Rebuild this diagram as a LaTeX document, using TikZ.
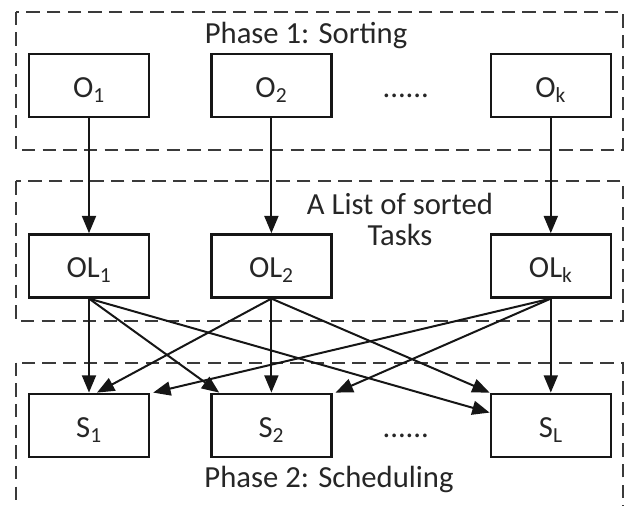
\documentclass[tikz,border=0pt]{standalone}
\usepackage{fontspec}
\setmainfont{Carlito}
\usetikzlibrary{arrows.meta,positioning,calc}
\definecolor{phink}{HTML}{161616}
\definecolor{phtext}{HTML}{262626}
\definecolor{phframe}{HTML}{3A3A3A}

\begin{document}
\begin{tikzpicture}[
  font=\fontsize{23pt}{23pt}\selectfont,
  text=phtext,
  box/.style={draw=phink, line width=1.8pt, minimum width=90pt,
    minimum height=47.25pt, inner sep=0pt, text height=18pt, text depth=0pt},
  gap/.style={inner sep=0pt, text height=18pt, text depth=0pt},
  title/.style={inner sep=0pt, anchor=base},
  phase/.style={draw=phframe, line width=1.6pt, dash pattern=on 10pt off 5.5pt},
  arrow/.style={-{Triangle[length=13pt,width=10.5pt]}, line width=1.5pt, draw=phink}
]
\useasboundingbox (0,0) rectangle (474pt,-379.5pt);
% phase 1: sorting
\node[box] (o1) at (66.75pt,-64.125pt) {O\textsubscript{1}};
\node[box, right=45pt of o1] (o2) {O\textsubscript{2}};
\node[box, right=117.75pt of o2] (ok) {O\textsubscript{k}};
\node[gap] (dots1) at ($(o2)!0.5!(ok)+(-4pt,0)$) {......};
\node[title] (sorting) at (229.5pt,-32.5pt) {Phase 1: Sorting};
% sorted task lists
\node[box, below=86.25pt of o1] (ol1) {OL\textsubscript{1}};
\node[box, below=86.25pt of o2] (ol2) {OL\textsubscript{2}};
\node[box, below=86.25pt of ok] (olk) {OL\textsubscript{k}};
\node[title, align=center] (sortedlist) at (300pt,-183.75pt) {A List of sorted\\Tasks};
% phase 2: scheduling
\node[box, below=70.5pt of ol1] (s1) {S\textsubscript{1}};
\node[box, below=70.5pt of ol2] (s2) {S\textsubscript{2}};
\node[box, below=70.5pt of olk] (sl) {S\textsubscript{L}};
\node[gap] (dots2) at ($(s2)!0.5!(sl)+(-4pt,0)$) {......};
\node[title] (scheduling) at (246.75pt,-365.25pt) {Phase 2: Scheduling};
% dashed frames
\draw[phase] ($(o1.north west)+(-9pt,30.75pt)$) rectangle ($(ok.south east)+(8.25pt,-24pt)$);
\draw[phase] ($(ol1.north west)+(-9pt,39pt)$) rectangle ($(olk.south east)+(8.25pt,-16.5pt)$);
\draw[phase] ($(s1.north west)+(-9pt,22.5pt)$) rectangle ($(sl.south east)+(8.25pt,-38.25pt)$);
% connectors
\draw[arrow] (o1) -- (ol1);
\draw[arrow] (o2) -- (ol2);
\draw[arrow] (ok) -- (olk);
\draw[arrow] (ol1.south) -- (s1.north);
\draw[arrow] (ol1.south) -- ([xshift=6.75pt]s2.north west);
\draw[arrow] (ol1.south) -- ([yshift=-15pt]sl.north west);
\draw[arrow] (ol2.south) -- ([xshift=6pt]s1.north);
\draw[arrow] (ol2.south) -- (s2.north);
\draw[arrow] (ol2.south) -- (sl.north west);
\draw[arrow] (olk.south) -- ([xshift=2.25pt]s1.north east);
\draw[arrow] (olk.south) -- ([xshift=2.25pt]s2.north east);
\draw[arrow] (olk.south) -- (sl.north);
\end{tikzpicture}
\end{document}
